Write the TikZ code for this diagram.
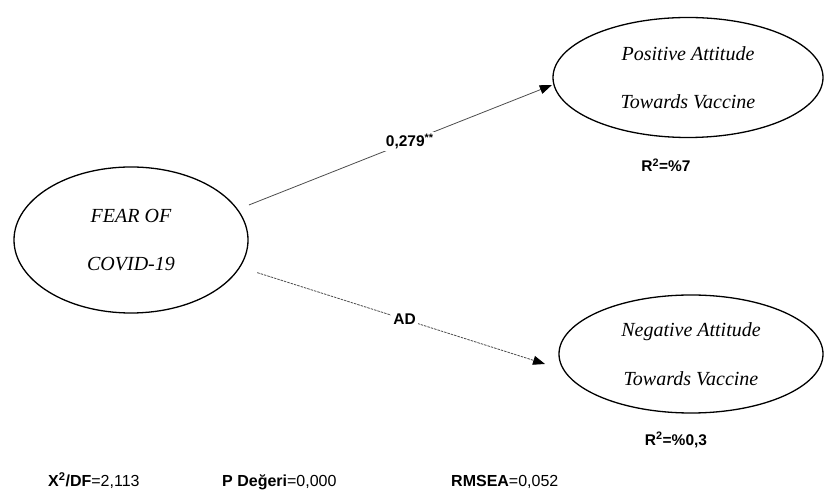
\documentclass[tikz,border=0pt]{standalone}
\usepackage{fontspec}
\setmainfont{Liberation Serif}
\setsansfont{Liberation Sans}
\usetikzlibrary{arrows.meta,shapes.geometric}

\begin{document}
\begin{tikzpicture}[x=1pt,y=1pt,>={Triangle[length=12pt,width=9pt,color=black]},
  main node/.style={ellipse,draw,line width=1.3pt,inner sep=0pt,align=center,font=\itshape\fontsize{20}{48.5}\selectfont},
  path label/.style={fill=white,inner sep=2pt,font=\sffamily\bfseries\fontsize{15.5}{18}\selectfont},
  fit label/.style={anchor=base west,inner sep=0pt,font=\sffamily\fontsize{16}{18}\selectfont}]

    \useasboundingbox (0,0) rectangle (825,495);

    \node[main node, minimum width=234pt, minimum height=146pt] (fear) at (131,255) {FEAR OF\\COVID-19};
    \node[main node, minimum width=270pt, minimum height=120pt] (pos) at (688,417.5) {Positive Attitude\\Towards Vaccine};
    \node[main node, minimum width=264pt, minimum height=118pt] (neg) at (691,141) {Negative Attitude\\Towards Vaccine};

    % paths
    \draw[->, line width=0.8pt, draw=black!70, shorten <=11.8pt, shorten >=1.6pt]
        (fear.16.15) -- node[path label, pos=0.545] {0,279\textsuperscript{**}} (pos.183.8);
    \draw[->, line width=0.8pt, draw=black!70, dash pattern=on 2.5pt off 1pt, shorten <=17.8pt, shorten >=18.9pt]
        (fear.-14.3) -- node[path label, pos=0.509] {AD} (neg.187.7);

    \node[path label, fill=none] (r2pos) at (666,330) {R\textsuperscript{2}=\%7};
    \node[path label, fill=none] (r2neg) at (676,55) {R\textsuperscript{2}=\%0,3};

    \node[fit label] (chi) at (48,8) {\textbf{X\textsuperscript{2}/DF}=2,113};
    \node[fit label] (pval) at (222,8) {\textbf{P Değeri}=0,000};
    \node[fit label] (rmsea) at (451,8) {\textbf{RMSEA}=0,052};
\end{tikzpicture}
\end{document}
